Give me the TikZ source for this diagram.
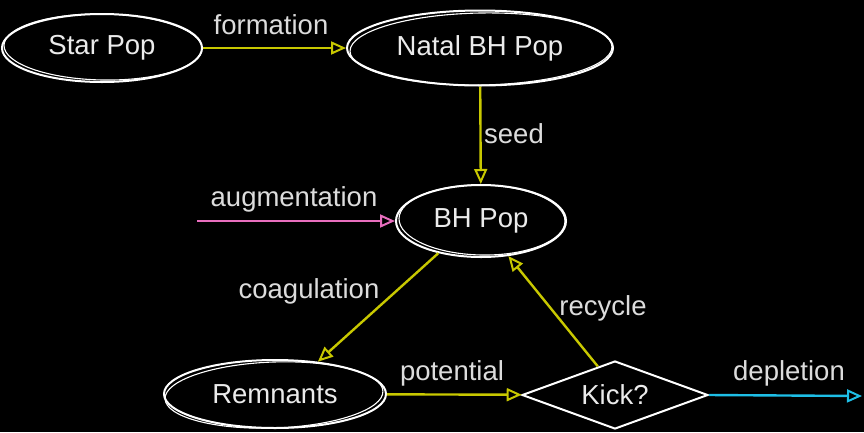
\documentclass[tikz,border=0pt]{standalone}
\usepackage{fontspec}
\setmainfont{Liberation Sans}
\usetikzlibrary{arrows.meta,shapes.geometric,calc}
\definecolor{ylw}{RGB}{200,200,0}
\definecolor{pnk}{RGB}{232,110,190}
\definecolor{cyn}{RGB}{30,190,230}
\definecolor{txt}{RGB}{235,235,235}
\definecolor{lbl}{RGB}{220,220,220}
\tikzset{
  ell/.style={ellipse, draw=white, line width=2pt, inner sep=0pt, text=txt},
  dia/.style={diamond, draw=white, line width=2pt, inner sep=0pt, text=txt},
  sketch/.style={draw=white, line width=1.1pt},
  conn/.style={line width=2.4pt, -{Triangle[open, length=15pt, width=13pt, line width=2pt]}},
  lab/.style={text=lbl, inner sep=0pt},
}
\begin{document}
\begin{tikzpicture}[x=1pt,y=-1pt,font=\fontsize{27.5}{32}\selectfont]
\fill[black] (0,0) rectangle (864,432);
\useasboundingbox (0,0) rectangle (864,432);
% nodes
\node[ell, minimum width=200pt, minimum height=68pt] (star) at (102,48) {Star Pop};
\node[ell, minimum width=266pt, minimum height=75pt] (natal) at (480,48) {Natal BH Pop};
\node[ell, minimum width=170pt, minimum height=72pt] (bh) at (481,221) {BH Pop};
\node[ell, minimum width=222pt, minimum height=68pt] (rem) at (275,394) {Remnants};
\node[dia, minimum width=186pt, minimum height=68pt, aspect=2.7] (kick) at (615,395) {Kick?};
% sketch second strokes
\draw[sketch] ($(star.center)+(1,-1)$) ellipse [x radius=99, y radius=33, rotate=-1];
\draw[sketch] ($(natal.center)+(1,1)$) ellipse [x radius=131, y radius=36, rotate=1];
\draw[sketch] ($(bh.center)+(1,-1)$) ellipse [x radius=83, y radius=35, rotate=-1];
\draw[sketch] ($(rem.center)+(-1,1)$) ellipse [x radius=109, y radius=33, rotate=2];
% free ends
\coordinate (augstart) at (197,221);
\coordinate (depend) at (862,396);
% connectors
\draw[conn, ylw] (star) -- (natal);
\draw[conn, ylw] (natal) -- (bh);
\draw[conn, pnk] (augstart) -- (bh);
\draw[conn, ylw] (bh.217) -- (rem.37);
\draw[conn, ylw] (rem) -- (kick);
\draw[conn, ylw] (kick.121) -- (bh.-52);
\draw[conn, cyn] (kick.east) -- (depend);
% labels
\node[lab] (lformation) at (271,25) {formation};
\node[lab] (lseed) at (514,134) {seed};
\node[lab] (laug) at (294,199) {augmentation};
\node[lab] (lcoag) at (309,291) {coagulation};
\node[lab] (lpot) at (452,373) {potential};
\node[lab] (lrec) at (603,308) {recycle};
\node[lab] (ldep) at (789,373) {depletion};
\end{tikzpicture}
\end{document}
